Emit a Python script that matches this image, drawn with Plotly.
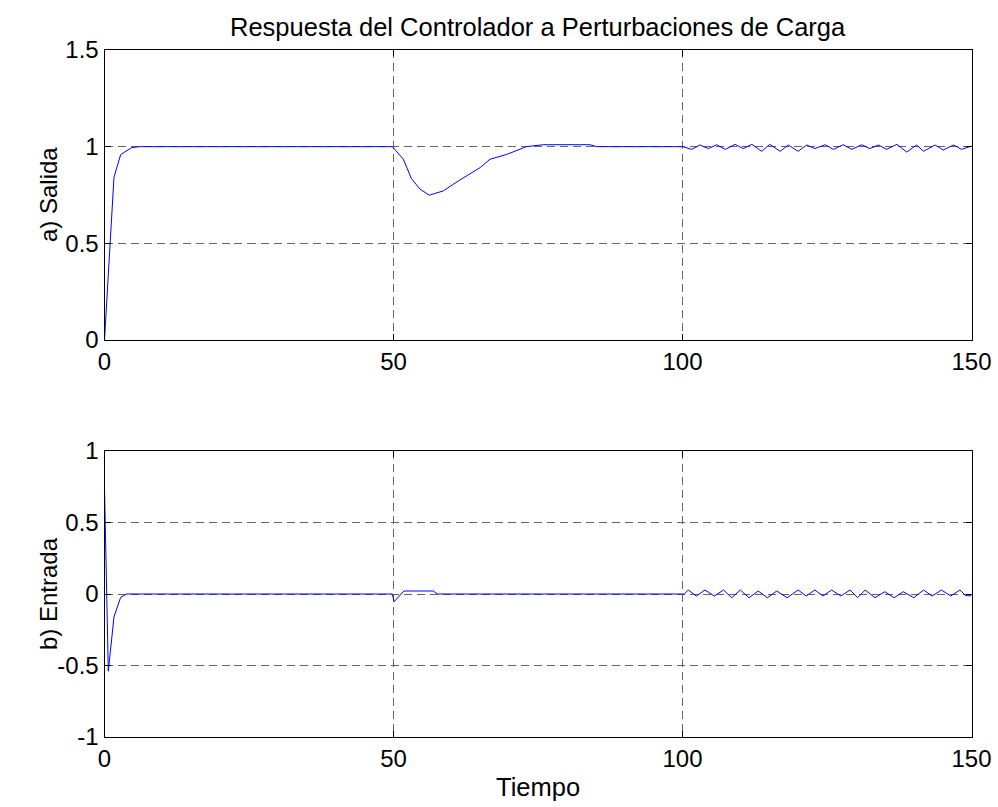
import plotly.graph_objects as go

# ---------------- data ----------------
# a) Salida (output)
out_t = [0, 1.64, 2.8, 4.7, 6.0, 49.8, 51.7, 53.1, 54.6, 56.2, 58.6, 61.5, 65.0, 66.7, 69.6,
         73.0, 75.9, 84.0, 85.2,
         100.1, 101.6, 103.0, 104.5, 105.9, 107.4, 109.1, 110.5, 112.0, 113.7, 115.1, 116.9,
         118.3, 120.0, 121.5, 122.9, 124.7, 126.1, 127.8, 129.3, 131.0, 132.4, 133.9, 135.3,
         137.1, 138.8, 140.5, 141.7, 143.7, 145.1, 146.9, 148.3, 150.0]
out_y = [0, 0.842, 0.959, 0.995, 1.0, 1.0, 0.935, 0.835, 0.78, 0.749, 0.771, 0.828, 0.892, 0.935, 0.96,
         1.0, 1.01, 1.01, 1.0,
         1.0, 0.986, 1.0086, 0.990, 1.010, 0.986, 1.012, 0.990, 1.012, 0.976, 1.012, 0.976,
         1.0086, 0.976, 1.0086, 0.990, 1.010, 0.986, 1.010, 0.986, 1.010, 0.990, 1.0086, 0.986,
         1.012, 0.972, 1.0086, 0.976, 1.0086, 0.983, 1.0086, 0.986, 1.0034]

# b) Entrada (input)
in_t = [0, 0.66, 1.64, 2.8, 3.84, 49.8, 50.1, 51.8, 56.9, 57.6,
        100.3, 101.0, 102.4, 103.9, 105.5, 107.1, 108.5, 110.0, 111.5, 113.1, 114.7,
        116.3, 118.1, 120.0, 121.4, 122.9, 124.3, 125.8, 127.4, 129.0, 130.3, 131.6,
        133.3, 135.0, 136.6, 138.2, 140.0, 141.7, 143.2, 144.8, 146.4, 148.0, 149.0, 150.0]
in_y = [0.74, -0.54, -0.16, -0.023, 0, 0, -0.054, 0.021, 0.021, 0,
        0, 0.028, -0.014, 0.028, -0.014, 0.028, -0.026, 0.028, -0.026, 0.021, -0.026,
        0.021, -0.026, 0.028, -0.014, 0.028, -0.014, 0.028, -0.014, 0.028, -0.026, 0.028,
        -0.026, 0.016, -0.026, 0.016, -0.026, 0.028, -0.014, 0.028, -0.014, 0.028, -0.012, -0.012]

x_ticks = [0, 50, 100, 150]
top_yticks = [0, 0.5, 1, 1.5]
bot_yticks = [-1, -0.5, 0, 0.5, 1]

title_text = "Respuesta del Controlador a Perturbaciones de Carga"
ylab_top = "a) Salida"
ylab_bot = "b) Entrada"
xlab = "Tiempo"

# ---------------- figure ----------------
W, H = 998, 807
FONT = "Liberation Sans, Arial, sans-serif"
FS = 24
FS_LAB = 25.5

fig = go.Figure()
fig.add_trace(go.Scatter(x=out_t, y=out_y, mode="lines",
                         line=dict(color="#0000ff", width=1), xaxis="x", yaxis="y",
                         showlegend=False, hoverinfo="skip"))
fig.add_trace(go.Scatter(x=in_t, y=in_y, mode="lines",
                         line=dict(color="#0000ff", width=1), xaxis="x2", yaxis="y2",
                         showlegend=False, hoverinfo="skip"))

xl, xr = 104.5, 971.5
top_t, top_b = 50, 340
bot_t, bot_b = 451, 737

def fx(px):
    return px / W

def fy(py):
    return 1 - py / H

common_axis = dict(showline=True, linecolor="black", linewidth=1, mirror="ticks",
                   ticks="inside", ticklen=6, tickcolor="black", tickwidth=1,
                   showgrid=True, gridcolor="#666666", gridwidth=1, griddash="8px,5px",
                   zeroline=False, tickfont=dict(family=FONT, size=FS, color="black"),
                   automargin=False, fixedrange=True)

fig.update_layout(
    width=W, height=H,
    margin=dict(l=0, r=0, t=0, b=0),
    paper_bgcolor="white", plot_bgcolor="white",
    font=dict(family=FONT, size=FS, color="black"),
    xaxis=dict(domain=[fx(xl), fx(xr)], anchor="y", range=[0, 150], tickvals=x_ticks,
               **common_axis),
    yaxis=dict(domain=[fy(top_b), fy(top_t)], anchor="x", range=[0, 1.5], tickvals=top_yticks,
               ticktext=["0", "0.5", "1", "1.5"], **common_axis),
    xaxis2=dict(domain=[fx(xl), fx(xr)], anchor="y2", range=[0, 150], tickvals=x_ticks,
                **common_axis),
    yaxis2=dict(domain=[fy(bot_b), fy(bot_t)], anchor="x2", range=[-1, 1], tickvals=bot_yticks,
                ticktext=["-1", "-0.5", "0", "0.5", "1"], **common_axis),
    annotations=[
        dict(text=title_text, x=fx((xl + xr) / 2), y=fy(27), xref="paper", yref="paper",
             showarrow=False, xanchor="center", yanchor="middle",
             font=dict(family=FONT, size=FS_LAB, color="black")),
        dict(text=ylab_top, x=fx(48), y=fy((top_t + top_b) / 2), xref="paper", yref="paper",
             showarrow=False, xanchor="center", yanchor="middle", textangle=-90,
             font=dict(family=FONT, size=FS, color="black")),
        dict(text=ylab_bot, x=fx(48), y=fy((bot_t + bot_b) / 2), xref="paper", yref="paper",
             showarrow=False, xanchor="center", yanchor="middle", textangle=-90,
             font=dict(family=FONT, size=FS, color="black")),
        dict(text=xlab, x=fx((xl + xr) / 2), y=fy(787), xref="paper", yref="paper",
             showarrow=False, xanchor="center", yanchor="middle",
             font=dict(family=FONT, size=FS_LAB, color="black")),
    ],
)

fig.write_html("out.html")
